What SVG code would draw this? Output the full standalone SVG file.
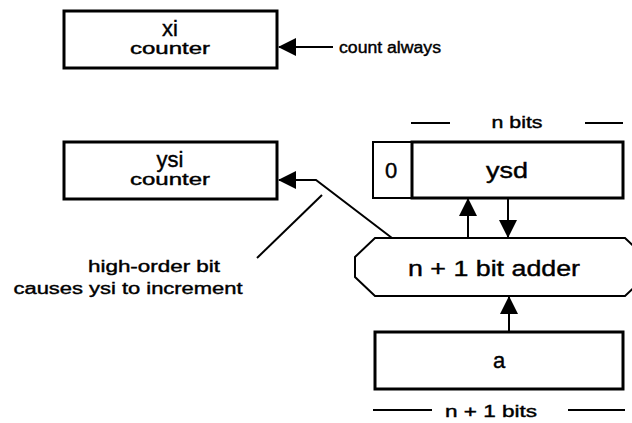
<svg xmlns="http://www.w3.org/2000/svg" width="632" height="423" viewBox="0 0 632 423">
<defs>
<style>
.box{fill:#fff;stroke:#000;stroke-width:3}
.thin{fill:#fff;stroke:#000;stroke-width:2}
.ln{fill:none;stroke:#000;stroke-width:2}
.t{font-family:"Liberation Sans",Arial,sans-serif;fill:#000;stroke:#000;stroke-width:0.4;text-anchor:middle;dominant-baseline:central}
.big{font-size:22px}
.sm{font-size:16px}
</style>
<marker id="ah" markerWidth="18" markerHeight="18" refX="17" refY="9" orient="auto" markerUnits="userSpaceOnUse">
<path d="M0,0 L18,9 L0,18 Z" fill="#000"/>
</marker>
</defs>
<rect width="632" height="423" fill="#fff"/>
<g id="xi">
<rect class="box" x="64" y="11" width="213" height="57"/>
<text class="t big" x="170" y="28">xi</text>
<text class="t sm" x="170" y="48" textLength="80" lengthAdjust="spacingAndGlyphs">counter</text>
</g>
<g id="ysi">
<rect class="box" x="64" y="142" width="213" height="57"/>
<text class="t big" x="170" y="159">ysi</text>
<text class="t sm" x="170" y="179" textLength="80" lengthAdjust="spacingAndGlyphs">counter</text>
</g>
<g id="zero">
<rect class="thin" x="373" y="142" width="39" height="56"/>
<text class="t big" x="391" y="170">0</text>
</g>
<g id="ysd">
<rect class="box" x="412" y="142" width="211" height="56"/>
<text class="t big" x="507" y="170" textLength="42" lengthAdjust="spacingAndGlyphs">ysd</text>
</g>
<g id="adder">
<polygon class="thin" points="375,238 625,238 645,257 645,277 625,296 375,296 355,277 355,257"/>
<text class="t big" x="494" y="268" textLength="172" lengthAdjust="spacingAndGlyphs">n + 1 bit adder</text>
</g>
<g id="a">
<rect class="box" x="375" y="332" width="248" height="57"/>
<text class="t big" x="499" y="360">a</text>
</g>
<g id="labels">
<text class="t sm" x="517" y="122" textLength="51" lengthAdjust="spacingAndGlyphs">n bits</text>
<text class="t sm" x="491" y="411" textLength="92" lengthAdjust="spacingAndGlyphs">n + 1 bits</text>
<text class="t sm" x="154" y="266" textLength="132" lengthAdjust="spacingAndGlyphs">high-order bit</text>
<text class="t sm" x="128" y="288" textLength="229" lengthAdjust="spacingAndGlyphs">causes ysi to increment</text>
<text class="t sm" x="390" y="47" textLength="102" lengthAdjust="spacingAndGlyphs">count always</text>
</g>
<g id="connectors">
<line class="ln" x1="333" y1="47" x2="279" y2="47" marker-end="url(#ah)"/>
<polyline class="ln" points="392,238 316,180 279,180" marker-end="url(#ah)"/>
<line class="ln" x1="468" y1="238" x2="468" y2="199" marker-end="url(#ah)"/>
<line class="ln" x1="508" y1="198" x2="508" y2="237" marker-end="url(#ah)"/>
<line class="ln" x1="509" y1="332" x2="509" y2="297" marker-end="url(#ah)"/>
<line class="ln" x1="322" y1="195" x2="257" y2="258"/>
<line class="ln" x1="411" y1="123" x2="450" y2="123"/>
<line class="ln" x1="585" y1="123" x2="623" y2="123"/>
<line class="ln" x1="373" y1="410" x2="432" y2="410"/>
<line class="ln" x1="568" y1="410" x2="625" y2="410"/>
</g>
</svg>
